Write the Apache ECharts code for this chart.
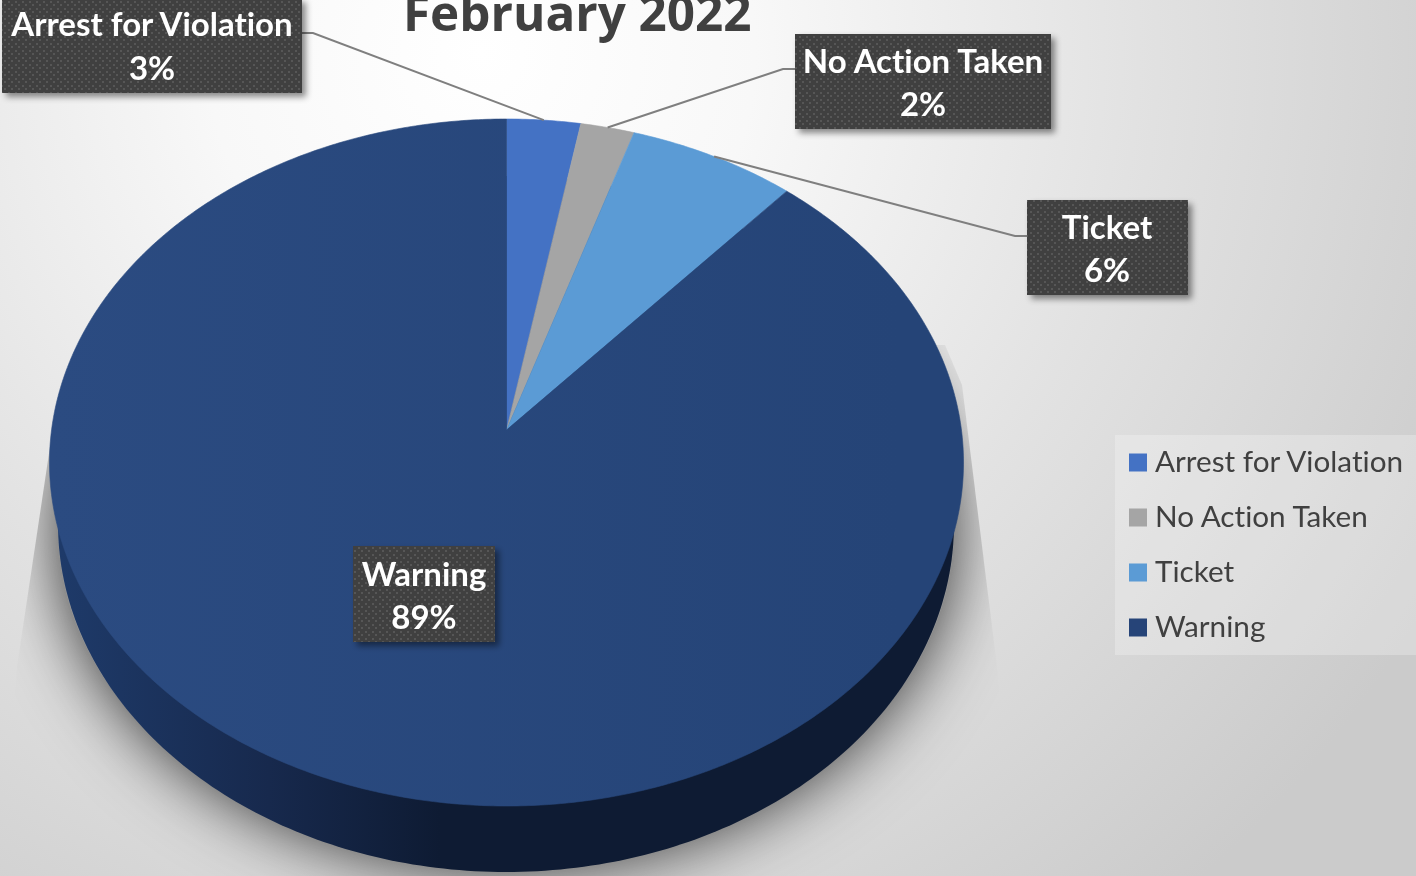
<!DOCTYPE html>
<html><head><meta charset="utf-8">
<style>html,body{margin:0;padding:0;overflow:hidden}#c{width:1416px;height:876px}</style>
<script src="https://cdn.jsdelivr.net/npm/echarts@6/dist/echarts.min.js"></script>
</head><body><div id="c"></div>
<script>
var categories = ['Arrest for Violation', 'No Action Taken', 'Ticket', 'Warning'];
var values = [2.6, 1.9, 6.0, 89.45];
var colors = ['#4472C4', '#A5A5A5', '#5B9BD5', '#264478'];
var chartTitle = 'February 2022';

// Layout (perspective view of the pie)
var TOP = {cx: 506.5, cy: 462.5, rx: 457, ry: 343.5};
var APEX = {x: 506.5, y: 430};
var BOTTOM = {cx: 506, cy: 524, rx: 448, ry: 348};
var BOXES = [
  {x: 2, y: -2, w: 300, h: 95, elbow: [[302, 33], [313, 33]], tx: 152, ty: 47.5},
  {x: 795, y: 34, w: 256, h: 95, elbow: [[795, 69], [783, 69]], tx: 923, ty: 84},
  {x: 1027, y: 200, w: 161, h: 95, elbow: [[1027, 236], [1015, 236]], tx: 1107, ty: 250},
  {x: 353, y: 546, w: 142, h: 96, elbow: null, tx: 424, ty: 597}
];

// Separate t+i glyphs as in the reference: no ligatures in canvas text, kerning kept
var origGetContext = HTMLCanvasElement.prototype.getContext;
HTMLCanvasElement.prototype.getContext = function () {
  var g = origGetContext.apply(this, arguments);
  if (g && 'textRendering' in g) { g.textRendering = 'optimizeSpeed'; g.fontKerning = 'normal'; }
  return g;
};

var total = values.reduce(function (a, b) { return a + b; }, 0);
function ellipsePt(e, frac) {
  var t = frac * Math.PI * 2;
  return [e.cx + e.rx * Math.sin(t), e.cy - e.ry * Math.cos(t)];
}
function ellipsePoly(e) {
  var pts = [];
  for (var i = 0; i < 360; i++) pts.push(ellipsePt(e, i / 360));
  return pts;
}
// dotted dark label fill
var pc = document.createElement('canvas');
pc.width = 7; pc.height = 7;
var ctx = pc.getContext('2d');
ctx.fillStyle = '#404040'; ctx.fillRect(0, 0, 7, 7);
ctx.fillStyle = '#565656'; ctx.fillRect(1, 1, 2, 2); ctx.fillRect(4, 4, 2, 2);
var dotted = {image: pc, repeat: 'repeat'};

function renderBase() {
  var bottomEdge = ellipsePoly(BOTTOM);
  var wall = new echarts.graphic.LinearGradient(60, 0, 440, 0, [
    {offset: 0, color: '#1e3a69'}, {offset: 0.55, color: '#17294d'}, {offset: 1, color: '#0e1b33'}
  ], true);
  var shadowEdge = ellipsePoly({cx: 506, cy: 528, rx: 448, ry: 340});
  return {type: 'group', children: [
    {type: 'polygon', shape: {points: shadowEdge},
      clipPath: {type: 'polygon', shape: {points: [[90, 340], [57, 400], [17, 667], [0, 900], [1016, 900], [997, 667], [962, 385], [945, 345]]}},
      style: {fill: '#999999', shadowBlur: 68, shadowColor: 'rgba(0,0,0,0.8)'}},
    {type: 'polygon', shape: {points: bottomEdge}, style: {fill: wall}}
  ]};
}

function renderSlice(i) {
  return function (params, api) {
    var before = values.slice(0, i).reduce(function (a, b) { return a + b; }, 0);
    var f0 = before / total, f1 = (before + api.value(0)) / total;
    var pts = [[APEX.x, APEX.y]];
    var n = Math.ceil((f1 - f0) * 720);
    for (var k = 0; k <= n; k++) pts.push(ellipsePt(TOP, f0 + (f1 - f0) * k / n));
    var fill = colors[i];
    if (i === 3) fill = new echarts.graphic.LinearGradient(50, 0, 900, 0, [
      {offset: 0, color: '#2b4b81'}, {offset: 1, color: '#254477'}
    ], true);
    return {type: 'polygon', shape: {points: pts}, style: {fill: fill, stroke: fill, lineWidth: 0.6}};
  };
}

function renderLabel(i) {
  return function (params, api) {
    var b = BOXES[i], children = [];
    var before = values.slice(0, i).reduce(function (a, c) { return a + c; }, 0);
    var mid = (before + api.value(0) / 2) / total;
    if (b.elbow) {
      children.push({type: 'polyline', shape: {points: b.elbow.concat([ellipsePt(TOP, mid)])},
        style: {stroke: '#7f7f7f', lineWidth: 2, fill: null}});
    }
    children.push({type: 'rect', shape: {x: b.x, y: b.y, width: b.w, height: b.h},
      style: {fill: dotted, shadowBlur: 6, shadowOffsetX: 4, shadowOffsetY: 4, shadowColor: 'rgba(0,0,0,0.45)'}});
    var pct = Math.round(api.value(0) / total * 100);
    children.push({type: 'text', style: {x: b.tx, y: b.ty, text: categories[i] + '\n' + pct + '%',
      fill: '#ffffff', font: 'bold 33px Lato', lineHeight: 43.5, align: 'center', verticalAlign: 'middle'}});
    return {type: 'group', children: children};
  };
}

var series = [{type: 'custom', name: '_base', coordinateSystem: 'none', silent: true, z: 1,
  data: [[0]], renderItem: renderBase, legendHoverLink: false}];
categories.forEach(function (name, i) {
  series.push({type: 'custom', name: name, coordinateSystem: 'none', silent: true, z: 2,
    data: [[values[i]]], itemStyle: {color: colors[i]}, renderItem: renderSlice(i)});
});
categories.forEach(function (name, i) {
  series.push({type: 'custom', name: name + ' label', coordinateSystem: 'none', silent: true, z: 5,
    data: [[values[i]]], renderItem: renderLabel(i)});
});

var chart = echarts.init(document.getElementById('c'), null, {width: 1416, height: 876});
chart.setOption({
  animation: false,
  backgroundColor: {type: 'radial', x: 0.34, y: 0.06, r: 1.25, colorStops: [
    {offset: 0, color: '#ffffff'}, {offset: 0.25, color: '#f8f8f8'}, {offset: 0.6, color: '#e2e2e2'}, {offset: 1, color: '#cbcbcb'}
  ]},
  title: {text: chartTitle, left: 403, top: -8, padding: 0,
    textStyle: {fontFamily: 'Open Sans', fontWeight: 'bold', fontSize: 49.4, color: '#404040'}},
  legend: {
    data: categories, orient: 'vertical', left: 1115, top: 435,
    padding: [10, 14, 10, 14], itemWidth: 18, itemHeight: 18, itemGap: 20, selectedMode: false,
    backgroundColor: 'rgba(255,255,255,0.25)', icon: 'rect',
    textStyle: {fontFamily: 'Lato', fontSize: 29.7, color: '#404040', padding: [0, 0, 0, 3], lineHeight: 35}
  },
  series: series
});
</script></body></html>
